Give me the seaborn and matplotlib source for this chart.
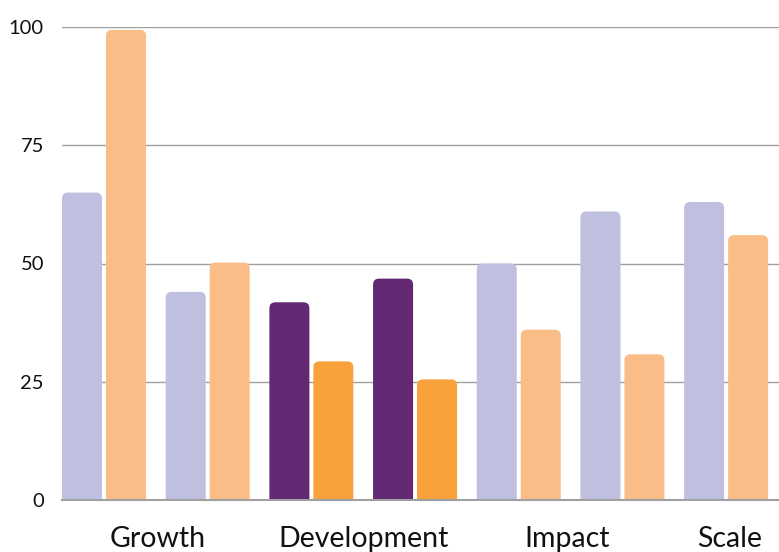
import matplotlib
matplotlib.use("Agg")
import matplotlib.pyplot as plt
import seaborn as sns
import pandas as pd
from matplotlib.patches import FancyBboxPatch

groups = ["G1", "G2", "G3", "G4", "G5", "G6", "G7"]
series_a = [65, 44, 41.8, 46.8, 50, 61, 63]
series_b = [99.4, 50.2, 29.3, 25.5, 36, 30.8, 56]
highlight = ["G3", "G4"]
tick_labels = ["Growth", "Development", "Impact", "Scale"]
tick_pos = [0.52, 2.5, 4.47, 6.03]

light_a, light_b = "#BFBFE0", "#FBBD87"
dark_a, dark_b = "#622872", "#F9A13A"

df = pd.DataFrame({
    "group": groups * 2,
    "series": ["A"] * len(groups) + ["B"] * len(groups),
    "value": series_a + series_b,
})

sns.set_theme(style="white")
plt.rcParams["font.family"] = ["Lato", "DejaVu Sans"]

fig = plt.figure(figsize=(7.79, 5.52), dpi=100)
ax = fig.add_axes([62 / 779, 52 / 552, 1 - 62 / 779, (500 - 27) / 552])

sns.barplot(data=df, x="group", y="value", hue="series", order=groups,
            hue_order=["A", "B"], width=0.848, gap=0.09,
            palette=[light_a, light_b], legend=False, ax=ax, zorder=3)

ax.set_xlim(-0.405, 6.51)
ax.set_ylim(0, 100)

# pixel per data unit for rounding
bbox = ax.get_window_extent()
px_x = bbox.width / (6.51 + 0.405)
px_y = bbox.height / 100
r_px = 6
rx = r_px / px_x
aspect = (r_px / px_y) / rx

for ci, cont in enumerate(ax.containers):
    for gi, bar in enumerate(cont.patches):
        g = groups[gi]
        if g in highlight:
            col = dark_a if ci == 0 else dark_b
        else:
            col = light_a if ci == 0 else light_b
        x0, w = bar.get_x(), bar.get_width()
        h = bar.get_height()
        bar.set_visible(False)
        fb = FancyBboxPatch((x0, -5), w, h + 5,
                            boxstyle=f"round,pad=0,rounding_size={rx}",
                            mutation_aspect=aspect, facecolor=col,
                            edgecolor="none", zorder=3)
        ax.add_patch(fb)

ax.set_yticks([0, 25, 50, 75, 100])
ax.set_yticklabels(["0", "25", "50", "75", "100"], fontsize=14.5, color="#111111")
ax.set_xticks(tick_pos)
ax.set_xticklabels(tick_labels, fontsize=20.5, color="#111111")
ax.tick_params(axis="x", length=0, pad=19)
ax.tick_params(axis="y", length=0, pad=13)
ax.set_xlabel("")
ax.set_ylabel("")
ax.grid(axis="y", color="#a0a0a0", linewidth=1, zorder=0)
ax.set_axisbelow(True)
for s in ["top", "right", "left"]:
    ax.spines[s].set_visible(False)
ax.spines["bottom"].set_color("#a0a0a0")
ax.spines["bottom"].set_linewidth(1.5)
ax.spines["bottom"].set_zorder(4)

fig.savefig("out.png", dpi=100)
